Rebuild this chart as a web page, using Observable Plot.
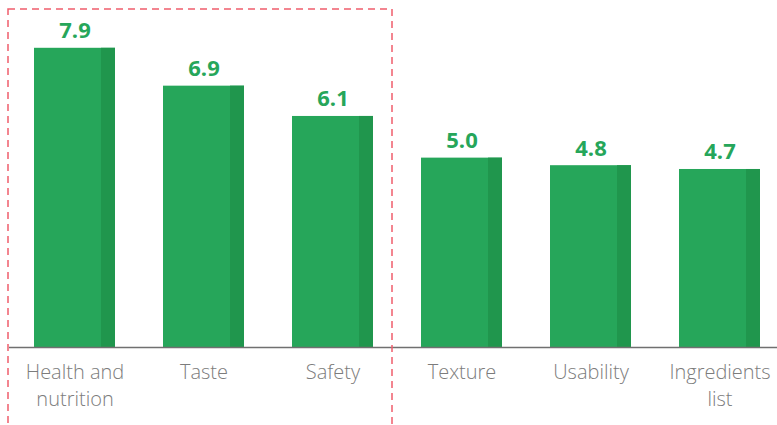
<!DOCTYPE html>
<html><head><meta charset="utf-8">
<script src="https://cdn.jsdelivr.net/npm/d3@7"></script>
<script src="https://cdn.jsdelivr.net/npm/@observablehq/plot@0.6"></script>
<style>body{margin:0;background:#fff}</style>
</head><body><div id="chart"></div>
<script>
const categories = ["Health and nutrition", "Taste", "Safety", "Texture", "Usability", "Ingredients list"];
const tickLabels = ["Health and\nnutrition", "Taste", "Safety", "Texture", "Usability", "Ingredients\nlist"];
const values = [7.9, 6.9, 6.1, 5.0, 4.8, 4.7];
const highlighted = ["Health and nutrition", "Taste", "Safety"];

const data = categories.map((c, i) => ({category: c, label: tickLabels[i], value: values[i]}));

const GREEN = "#26A65A", DARK = "#20964D";

function highlightBox(index, scales, vals, dims) {
  const x = scales.x;
  const bw = x.bandwidth ? x.bandwidth() : 0;
  const x0 = x(highlighted[0]) - 26;
  const x1 = x(highlighted[highlighted.length - 1]) + bw + 19;
  const g = d3.create("svg:g");
  g.append("rect")
    .attr("x", x0).attr("y", 9)
    .attr("width", x1 - x0).attr("height", dims.height + 40)
    .attr("fill", "none").attr("stroke", "#EF5E6C")
    .attr("stroke-width", 1.5).attr("stroke-dasharray", "7,5");
  return g.node();
}

const chart = Plot.plot({
  width: 777, height: 425,
  marginTop: 44, marginBottom: 78, marginLeft: 9, marginRight: 0,
  style: {fontFamily: "'Open Sans', sans-serif", background: "#fff"},
  x: {domain: categories, range: [13.6, 780.4], paddingInner: 0.374, paddingOuter: 0.15, axis: null},
  y: {domain: [0, 8], axis: null},
  marks: [
    Plot.barY(data, {x: "category", y: "value", fill: GREEN}),
    Plot.barY(data, {x: "category", y: "value", fill: DARK, insetLeft: 67}),
    Plot.ruleY([0], {stroke: "#707070", strokeWidth: 1.3}),
    Plot.text(data, {x: "category", y: "value", text: d => d.value.toFixed(1), lineAnchor: "bottom", dy: -10,
      fill: GREEN, fontSize: 22, fontWeight: "bold"}),
    Plot.text(data, {x: "category", y: () => 0, text: "label", lineAnchor: "top", dy: 13, lineHeight: 1.33,
      fill: "#7c7c7c", fontSize: 20, fontWeight: 300}),
    highlightBox
  ]
});
document.getElementById("chart").append(chart);
</script>
</body></html>
